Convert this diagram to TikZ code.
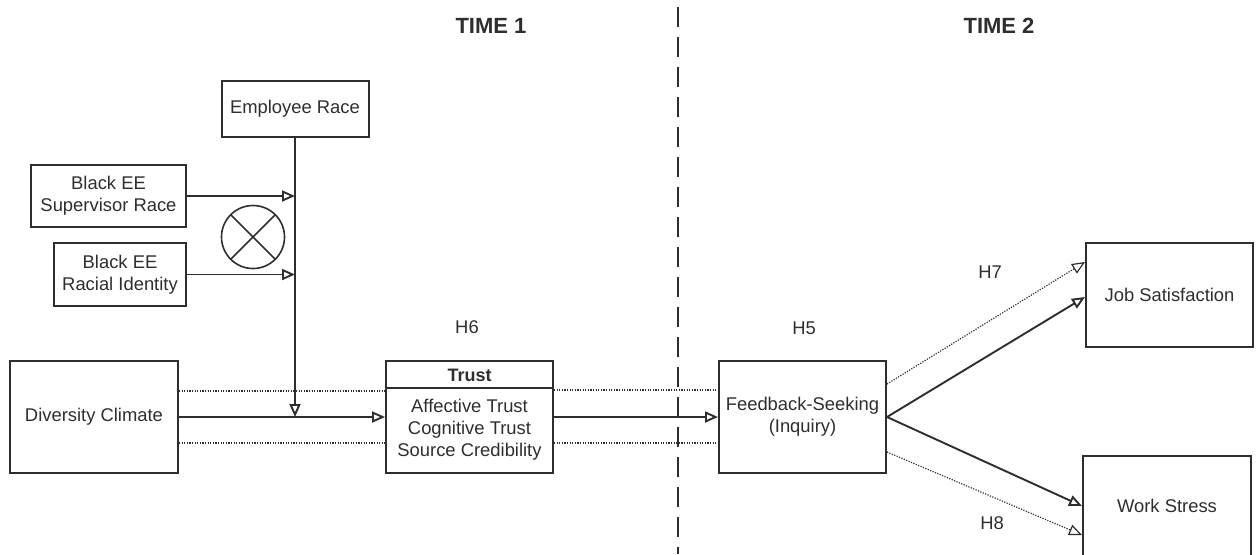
\documentclass[tikz,border=0pt]{standalone}
\usepackage{fontspec}
\setmainfont{Liberation Sans}
\usepackage{tikz,xcolor}
\usetikzlibrary{arrows.meta}
\definecolor{ink}{HTML}{2E2E2E}

\begin{document}
\begin{tikzpicture}[x=0.5pt,y=-0.5pt,
        every node/.style={font=\fontsize{9.2}{11}\selectfont,text=ink},
        box/.style={draw=ink,line width=1pt,inner sep=0pt,align=center},
        link/.style={draw=ink,line width=0.95pt,-{Triangle[open,length=6.5pt,width=5.5pt]}},
        dotlink/.style={link,line width=0.6pt,dash pattern=on 0.6pt off 0.7pt},
        dotline/.style={draw=ink,line width=0.6pt,dash pattern=on 0.6pt off 0.7pt},
        heading/.style={font=\fontsize{11}{13}\selectfont\bfseries}]
                \useasboundingbox (0,0) rectangle (1257,554);
                \node[heading] (time1) at (491,26) {TIME 1};
                \node[heading] (time2) at (999,26) {TIME 2};
                \coordinate (divtop) at (678,7);
                \coordinate (divbot) at (678,554);
                \draw[ink,line width=1.1pt,dash pattern=on 10pt off 5pt] (divtop) -- (divbot);
                \node[box,minimum width=73.5pt,minimum height=28pt] (race) at (295,109) {Employee Race};
                \node[box,minimum width=77.5pt,minimum height=31pt] (suprace) at (108.5,196) {Black EE\\Supervisor Race};
                \node[box,minimum width=66pt,minimum height=31.5pt] (identity) at (120,274.5) {Black EE\\Racial Identity};
                \node[draw=ink,line width=0.8pt,circle,minimum size=31.5pt,
                    path picture={\draw[ink,line width=0.8pt]
                        (path picture bounding box.north west) -- (path picture bounding box.south east)
                        (path picture bounding box.north east) -- (path picture bounding box.south west);}]
                    (cross) at (253,237) {};
                \node[box,minimum width=84pt,minimum height=56pt] (climate) at (94,417) {Diversity Climate};
                \node[box,minimum width=83.5pt,minimum height=56pt] (trust) at (469.5,417) {};
                \draw[ink,line width=1pt] ([yshift=-14pt]trust.north west) -- ([yshift=-14pt]trust.north east);
                \node[font=\fontsize{9}{11}\selectfont\bfseries] (trusthead) at (469.5,375) {Trust};
                \node[align=center] (trustitems) at (469.5,429.5) {Affective Trust\\Cognitive Trust\\Source Credibility};
                \node[box,minimum width=83.5pt,minimum height=56pt] (seeking) at (802.5,417) {Feedback-Seeking\\(Inquiry)};
                \node[box,minimum width=83.5pt,minimum height=52pt] (satisfaction) at (1169.5,295) {Job Satisfaction};
                \node[box,minimum width=84pt,minimum height=50pt] (stress) at (1167,506) {Work Stress};
                \node (h6) at (467,327) {H6};
                \node (h5) at (804,328) {H5};
                \node (h7) at (990,272) {H7};
                \node (h8) at (992,523) {H8};
                \coordinate (moderate) at (race.south |- climate.east);
                \draw[link] (race.south) -- (moderate);
                \draw[link] (suprace.east) -- (race.south |- suprace.east);
                \draw[link] (identity.east) -- (race.south |- identity.east);
                \draw[link] (climate.east) -- (trust.west);
                \draw[dotline] ([yshift=13pt]climate.east) -- ([yshift=13pt]trust.west);
                \draw[dotline] ([yshift=-13pt]climate.east) -- ([yshift=-13pt]trust.west);
                \draw[link] (trust.east) -- (seeking.west);
                \draw[dotline] ([yshift=13.5pt]trust.east) -- ([yshift=13.5pt]seeking.west);
                \draw[dotline] ([yshift=-13pt]trust.east) -- ([yshift=-13pt]seeking.west);
                \draw[link] (seeking.east) -- ([yshift=-1pt]satisfaction.west);
                \draw[dotlink] ([yshift=16.5pt]seeking.east) -- ([yshift=16.5pt]satisfaction.west);
                \draw[link] (seeking.east) -- (stress.west);
                \draw[dotlink] ([yshift=-17.5pt]seeking.east) -- ([yshift=-14.5pt]stress.west);
            \end{tikzpicture}
\end{document}
